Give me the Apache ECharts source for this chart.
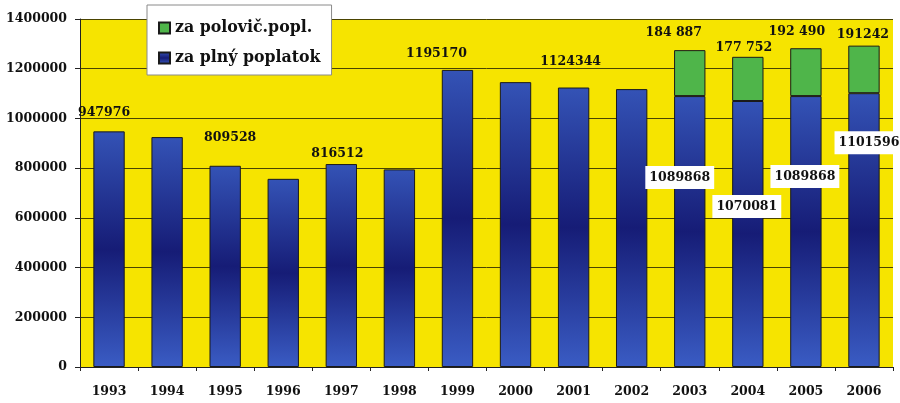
<!DOCTYPE html>
<html>
<head>
<meta charset="utf-8">
<script src="https://cdn.jsdelivr.net/npm/echarts@6/dist/echarts.min.js"></script>
<style>
  html, body { margin: 0; padding: 0; background: #fff; }
  #chart { width: 900px; height: 403px; }
</style>
</head>
<body>
<div id="chart"></div>
<script>
var years = ["1993", "1994", "1995", "1996", "1997", "1998", "1999",
  "2000", "2001", "2002", "2003", "2004", "2005", "2006"];
// za plný poplatok
var fullFee = [947976, 925000, 809528, 757000, 816512, 795000, 1195170,
  1146000, 1124344, 1118000, 1089868, 1070081, 1089868, 1101596];
// za polovič.popl. (only from 2003)
var halfFee = [null, null, null, null, null, null, null,
  null, null, null, 184887, 177752, 192490, 191242];
var halfFeeText = ["", "", "", "", "", "", "", "", "", "",
  "184 887", "177 752", "192 490", "191242"];
// which full-fee values get a printed label
var fullLabelYears = ["1993", "1995", "1997", "1999", "2001", "2003", "2004", "2005", "2006"];
var yTicks = [0, 200000, 400000, 600000, 800000, 1000000, 1200000, 1400000];

// label nudges (pixels), kept apart from the data
var fullOffsets = {
  "1993": [-5, -7], "1995": [5, -17], "1997": [-4, 1], "1999": [-21, -5], "2001": [-3, -14],
  "2003": [-10, 65], "2004": [-1, 89], "2005": [-1, 64], "2006": [5, 33]
};
var halfOffsets = { "2003": [-16, -6], "2004": [-4, 2], "2005": [-9, -5], "2006": [-1, 1] };

var serif = "DejaVu Serif";

var blueFill = new echarts.graphic.LinearGradient(0, 0, 0, 1, [
  { offset: 0, color: "#3453b6" },
  { offset: 0.5, color: "#161c76" },
  { offset: 1, color: "#3a5cc4" }
]);

var fullData = fullFee.map(function (v, i) {
  var y = years[i];
  var item = { value: v };
  if (fullLabelYears.indexOf(y) >= 0) {
    var stacked = halfFee[i] != null;
    item.label = {
      show: true,
      position: stacked ? "insideTop" : "top",
      offset: fullOffsets[y],
      backgroundColor: stacked ? "#ffffff" : "transparent",
      padding: stacked ? [5, 4] : 0
    };
  }
  return item;
});

var halfData = halfFee.map(function (v, i) {
  if (v == null) return "-";
  return {
    value: v,
    label: { show: true, position: "top", offset: halfOffsets[years[i]], formatter: halfFeeText[i] }
  };
});

var chart = echarts.init(document.getElementById("chart"));
chart.setOption({
  animation: false,
  backgroundColor: "#ffffff",
  grid: {
    left: 80, right: 7, top: 19, bottom: 36,
    outerBoundsMode: "none",
    containLabel: false,
    show: true, backgroundColor: "#f6e400", borderWidth: 0
  },
  legend: {
    data: ["za polovič.popl.", "za plný poplatok"],
    orient: "vertical",
    left: 147, top: 5,
    backgroundColor: "#ffffff",
    borderColor: "#8a8a8a", borderWidth: 1,
    padding: [15, 11, 9, 11],
    itemGap: 14,
    itemWidth: 11, itemHeight: 11,
    icon: "rect",
    textStyle: { fontFamily: serif, fontWeight: "bold", fontSize: 15.8, color: "#111" }
  },
  xAxis: {
    type: "category",
    data: years,
    axisLine: { lineStyle: { color: "#222", width: 1 } },
    axisTick: { show: true, length: 4, lineStyle: { color: "#222" } },
    axisLabel: { margin: 18, fontFamily: serif, fontWeight: "bold", fontSize: 12.5, color: "#111" }
  },
  yAxis: {
    type: "value",
    min: 0, max: yTicks[yTicks.length - 1], interval: yTicks[1] - yTicks[0],
    axisLine: { show: true, lineStyle: { color: "#222", width: 1 } },
    axisTick: { show: true, length: 5, lineStyle: { color: "#222" } },
    axisLabel: {
      margin: 13, fontFamily: serif, fontWeight: "bold", fontSize: 12.5, color: "#111",
      formatter: function (v) { return String(v); }
    },
    splitLine: { show: true, lineStyle: { color: "#4a4300", width: 1 } }
  },
  series: [
    {
      name: "za plný poplatok",
      type: "bar",
      stack: "total",
      barWidth: "54%",
      data: fullData,
      itemStyle: { color: blueFill, borderColor: "#1a1a1a", borderWidth: 1 },
      label: { fontFamily: serif, fontWeight: "bold", fontSize: 12.5, color: "#111" }
    },
    {
      name: "za polovič.popl.",
      type: "bar",
      stack: "total",
      barWidth: "54%",
      data: halfData,
      itemStyle: { color: "#4fb54a", borderColor: "#1a1a1a", borderWidth: 1 },
      label: { fontFamily: serif, fontWeight: "bold", fontSize: 12.5, color: "#111" }
    }
  ]
});
</script>
</body>
</html>
